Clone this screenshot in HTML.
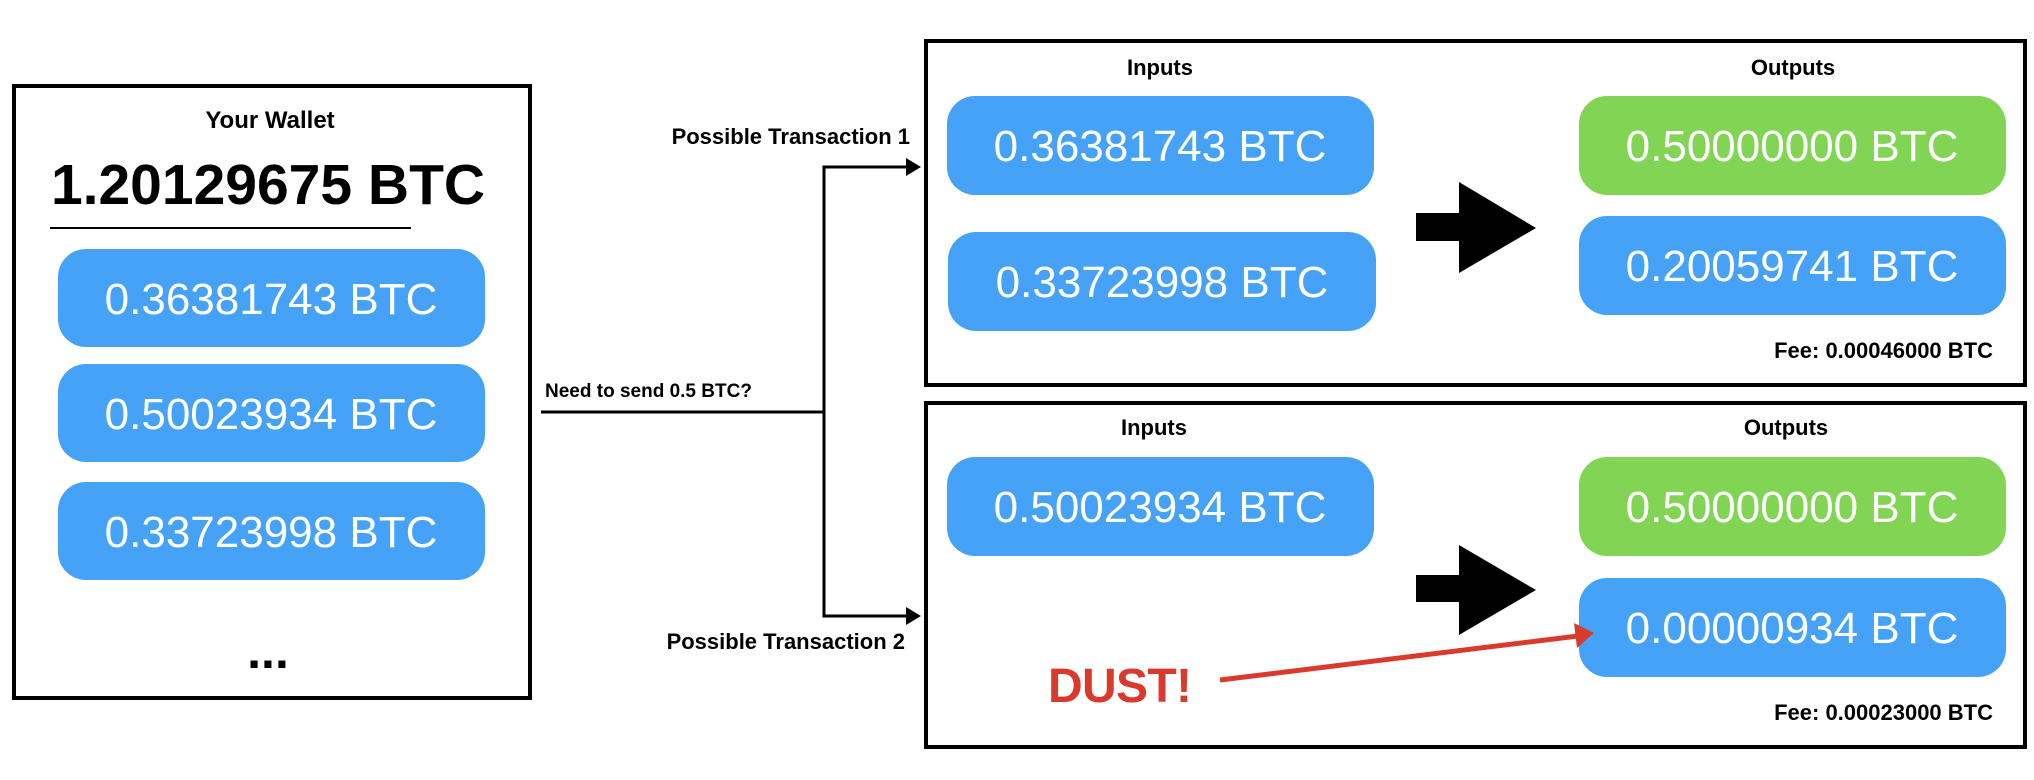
<!DOCTYPE html>
<html><head><meta charset="utf-8"><style>html,body{margin:0;padding:0;background:#fff}svg{display:block}</style></head>
<body>
<svg width="2034" height="780" viewBox="0 0 2034 780" xmlns="http://www.w3.org/2000/svg" font-family="Liberation Sans, Arial, sans-serif">
<rect width="2034" height="780" fill="#fff"/>
<!-- Wallet -->
<rect x="14" y="86" width="516" height="612" fill="none" stroke="#000" stroke-width="4"/>
<text x="270" y="128" font-size="24" font-weight="bold" text-anchor="middle">Your Wallet</text>
<text x="268" y="204" font-size="57" font-weight="bold" text-anchor="middle">1.20129675 BTC</text>
<line x1="50" y1="228" x2="411" y2="228" stroke="#000" stroke-width="2"/>
<g fill="#46a2f7">
<rect x="58" y="249" width="427" height="98" rx="28"/>
<rect x="58" y="364" width="427" height="98" rx="28"/>
<rect x="58" y="482" width="427" height="98" rx="28"/>
</g>
<g fill="#fff" font-size="44" text-anchor="middle">
<text x="271" y="314">0.36381743 BTC</text>
<text x="271" y="429">0.50023934 BTC</text>
<text x="271" y="547">0.33723998 BTC</text>
</g>
<text x="268" y="668" font-size="50" font-weight="bold" text-anchor="middle">...</text>
<!-- connectors -->
<text x="545" y="397" font-size="19" font-weight="bold">Need to send 0.5 BTC?</text>
<polyline points="541,412 824,412" stroke="#000" stroke-width="3" fill="none"/>
<polyline points="910,167 824,167 824,616 910,616" stroke="#000" stroke-width="3" fill="none"/>
<polygon points="906,158 921,167 906,176" fill="#000"/>
<polygon points="906,607 921,616 906,625" fill="#000"/>
<text x="910" y="144" font-size="22" font-weight="bold" text-anchor="end">Possible Transaction 1</text>
<text x="905" y="649" font-size="22" font-weight="bold" text-anchor="end">Possible Transaction 2</text>
<!-- Tx boxes -->
<rect x="926" y="41" width="1099" height="344" fill="none" stroke="#000" stroke-width="4"/>
<rect x="926" y="403" width="1099" height="344" fill="none" stroke="#000" stroke-width="4"/>
<g font-size="22" font-weight="bold" text-anchor="middle">
<text x="1160" y="75">Inputs</text>
<text x="1793" y="75">Outputs</text>
<text x="1154" y="435">Inputs</text>
<text x="1786" y="435">Outputs</text>
</g>
<g fill="#46a2f7">
<rect x="947" y="96" width="427" height="99" rx="28"/>
<rect x="948" y="232" width="428" height="99" rx="28"/>
<rect x="1579" y="216" width="427" height="99" rx="28"/>
<rect x="947" y="457" width="427" height="99" rx="28"/>
<rect x="1579" y="578" width="427" height="99" rx="28"/>
</g>
<g fill="#82d455">
<rect x="1579" y="96" width="427" height="99" rx="28"/>
<rect x="1579" y="457" width="427" height="99" rx="28"/>
</g>
<g fill="#fff" font-size="44" text-anchor="middle">
<text x="1160" y="161">0.36381743 BTC</text>
<text x="1162" y="297">0.33723998 BTC</text>
<text x="1792" y="161">0.50000000 BTC</text>
<text x="1792" y="281">0.20059741 BTC</text>
<text x="1160" y="522">0.50023934 BTC</text>
<text x="1792" y="522">0.50000000 BTC</text>
<text x="1792" y="643">0.00000934 BTC</text>
</g>
<polygon points="1416,213 1459,213 1459,182 1536,228 1459,273 1459,241 1416,241" fill="#000"/>
<polygon points="1416,575 1459,575 1459,545 1536,590 1459,635 1459,602 1416,602" fill="#000"/>
<g font-size="22" font-weight="bold" text-anchor="end">
<text x="1993" y="358">Fee: 0.00046000 BTC</text>
<text x="1993" y="720">Fee: 0.00023000 BTC</text>
</g>
<text x="1048" y="702" font-size="48" font-weight="bold" fill="#d93a2b" textLength="144">DUST!</text>
<line x1="1220" y1="680" x2="1578" y2="636" stroke="#d93a2b" stroke-width="5"/>
<polygon points="1574,623 1594,633 1577,648" fill="#d93a2b"/>
</svg>
</body></html>
